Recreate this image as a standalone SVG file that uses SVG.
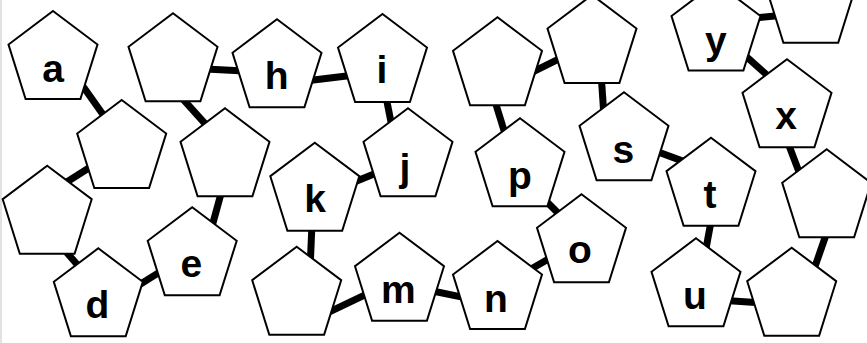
<svg xmlns="http://www.w3.org/2000/svg" xmlns:xlink="http://www.w3.org/1999/xlink" width="867" height="343" viewBox="0 0 867 343">
<style>
.pg{fill:#fff;stroke:#000;stroke-width:2;stroke-linejoin:miter}
.cn line{stroke:#000;stroke-width:7;stroke-linecap:butt}
.lb{font-family:"Liberation Sans",Arial,sans-serif;font-weight:bold;font-size:39px;text-anchor:middle;fill:#000}
</style>
<defs>
<path id="pent" d="M0,0 L44.5,33.5 L27.4,88 L-27.4,88 L-44.5,33.5 Z"/>
</defs>
<rect x="0" y="0" width="867" height="343" fill="#fff"/>
<rect x="0" y="0" width="2" height="343" fill="#e2e2e2"/>
<g id="connectors" class="cn">
<line x1="78.7" y1="80.2" x2="107.9" y2="121.5"/>
<line x1="63.2" y1="184.2" x2="92.4" y2="165.8"/>
<line x1="64.4" y1="249.8" x2="80.6" y2="268.5"/>
<line x1="136.6" y1="286.5" x2="162.8" y2="270.1"/>
<line x1="211.7" y1="227.5" x2="221.6" y2="191.5"/>
<line x1="182.7" y1="98.8" x2="207.3" y2="126.2"/>
<line x1="205.7" y1="69" x2="244.3" y2="71"/>
<line x1="307.3" y1="80.7" x2="352.7" y2="75.3"/>
<line x1="386.1" y1="97.4" x2="391.9" y2="126.6"/>
<line x1="353.7" y1="182.3" x2="378.9" y2="172"/>
<line x1="311.9" y1="225.7" x2="310.4" y2="261"/>
<line x1="327.9" y1="312.6" x2="368.7" y2="293.1"/>
<line x1="430.1" y1="290.5" x2="465.9" y2="297.9"/>
<line x1="529.8" y1="269.7" x2="551.9" y2="257"/>
<line x1="544" y1="199" x2="561" y2="216"/>
<line x1="494.9" y1="101" x2="505.1" y2="134"/>
<line x1="531.3" y1="72.7" x2="562.1" y2="57.3"/>
<line x1="601.3" y1="77.3" x2="603.7" y2="112"/>
<line x1="656.1" y1="151.2" x2="685.6" y2="162.1"/>
<line x1="711.1" y1="220.8" x2="705.6" y2="250.9"/>
<line x1="725.7" y1="300.6" x2="759.3" y2="302.7"/>
<line x1="827" y1="232" x2="814.7" y2="267.4"/>
<line x1="787.9" y1="142.7" x2="800.4" y2="175.6"/>
<line x1="743.8" y1="54.3" x2="769.5" y2="77.3"/>
<line x1="755.7" y1="17.9" x2="780" y2="15.4"/>
</g>
<g id="node-a"><use href="#pent" class="pg" x="53" y="11"/><text class="lb" x="53" y="81.7">a</text></g>
<g id="node-b"><use href="#pent" class="pg" x="121.7" y="100"/></g>
<g id="node-c"><use href="#pent" class="pg" x="47.2" y="165.7"/></g>
<g id="node-d"><use href="#pent" class="pg" x="98.3" y="248.3"/><text class="lb" x="97.3" y="318.3">d</text></g>
<g id="node-e"><use href="#pent" class="pg" x="192.2" y="207.3"/><text class="lb" x="191.3" y="276.7">e</text></g>
<g id="node-f"><use href="#pent" class="pg" x="225" y="108.3"/></g>
<g id="node-g"><use href="#pent" class="pg" x="173" y="13.3"/></g>
<g id="node-h"><use href="#pent" class="pg" x="277" y="19.3"/><text class="lb" x="276.7" y="89.3">h</text></g>
<g id="node-i"><use href="#pent" class="pg" x="382.5" y="14"/><text class="lb" x="382" y="82.7">i</text></g>
<g id="node-j"><use href="#pent" class="pg" x="408" y="108.3"/><text class="lb" x="405" y="180.5">j</text></g>
<g id="node-k"><use href="#pent" class="pg" x="314.8" y="142.7"/><text class="lb" x="315" y="211.7">k</text></g>
<g id="node-l"><use href="#pent" class="pg" x="296.7" y="246.7"/></g>
<g id="node-m"><use href="#pent" class="pg" x="399.5" y="232.7"/><text class="lb" x="398.3" y="303.3">m</text></g>
<g id="node-n"><use href="#pent" class="pg" x="497.5" y="241"/><text class="lb" x="496" y="311.7">n</text></g>
<g id="node-o"><use href="#pent" class="pg" x="581.5" y="194.3"/><text class="lb" x="580" y="263.3">o</text></g>
<g id="node-p"><use href="#pent" class="pg" x="520" y="118.3"/><text class="lb" x="520" y="188.8">p</text></g>
<g id="node-q"><use href="#pent" class="pg" x="497.5" y="17.3"/></g>
<g id="node-r"><use href="#pent" class="pg" x="592" y="-5"/></g>
<g id="node-s"><use href="#pent" class="pg" x="624" y="92.3"/><text class="lb" x="623.3" y="163.3">s</text></g>
<g id="node-t"><use href="#pent" class="pg" x="711" y="137.7"/><text class="lb" x="710" y="208.3">t</text></g>
<g id="node-u"><use href="#pent" class="pg" x="696" y="238.3"/><text class="lb" x="695" y="309">u</text></g>
<g id="node-v"><use href="#pent" class="pg" x="791.7" y="247.7"/></g>
<g id="node-w"><use href="#pent" class="pg" x="826.7" y="149.3"/></g>
<g id="node-x"><use href="#pent" class="pg" x="787" y="59.3"/><text class="lb" x="786" y="129.3">x</text></g>
<g id="node-y"><use href="#pent" class="pg" x="716" y="-17.5"/><text class="lb" x="715.8" y="53.8">y</text></g>
<g id="node-z"><use href="#pent" class="pg" x="810.8" y="-45.3"/></g>
</svg>
